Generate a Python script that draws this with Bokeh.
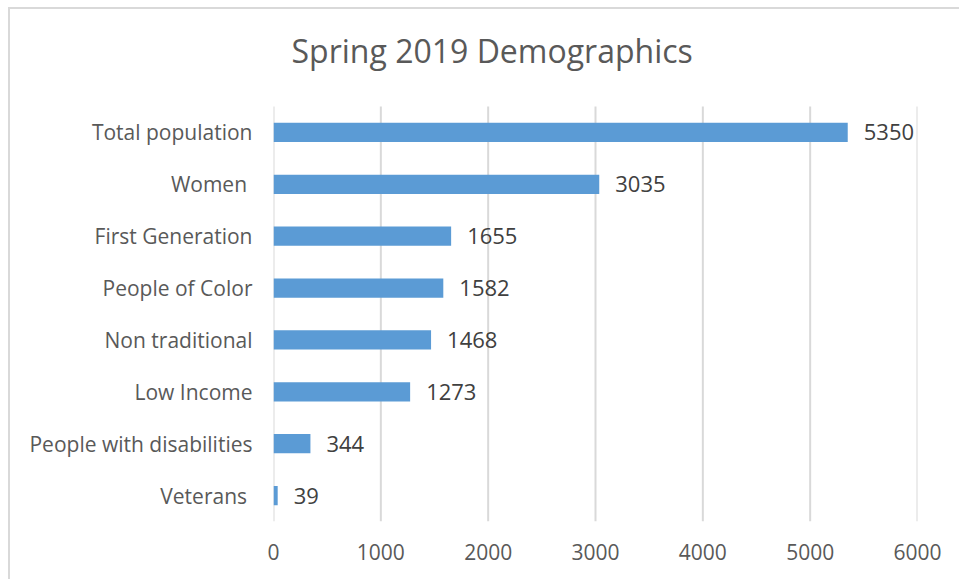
from bokeh.plotting import figure
from bokeh.models import ColumnDataSource, LabelSet, Label, Range1d, FixedTicker
from bokeh.core.properties import value
from bokeh.embed import file_html
from bokeh.resources import INLINE

categories = ["Total population", "Women ", "First Generation", "People of Color",
              "Non traditional", "Low Income", "People with disabilities", "Veterans "]
values = [5350, 3035, 1655, 1582, 1468, 1273, 344, 39]
x_ticks = [0, 1000, 2000, 3000, 4000, 5000, 6000]
title_text = "Spring 2019 Demographics"

FONT = "Open Sans"

cats_bottom_up = categories[::-1]
vals_bottom_up = values[::-1]
idx = list(range(len(cats_bottom_up)))
src = ColumnDataSource(dict(y=idx, cat=cats_bottom_up, val=vals_bottom_up,
                            lbl=[str(v) for v in vals_bottom_up]))

p = figure(width=951, height=572, output_backend="svg", toolbar_location=None,
           y_range=Range1d(-0.5, 9.37), x_range=Range1d(0, 6000),
           min_border_left=263, min_border_right=44, min_border_top=0, min_border_bottom=60)
p.title.text = ""

# vertical grid lines spanning only the category band
p.segment(x0=x_ticks, x1=x_ticks, y0=[-0.5] * len(x_ticks), y1=[len(idx) - 0.5] * len(x_ticks),
          line_color="#D9D9D9", line_width=2)

p.hbar(y="y", right="val", height=0.37, source=src, fill_color="#5B9BD5", line_color=None)

labels = LabelSet(x="val", y="y", text="lbl", source=src, x_offset=16,
                  text_baseline="middle", text_align="left",
                  text_font=value(FONT), text_font_size=value("22px"), text_color="#404040")
p.add_layout(labels)

title = Label(x=168, y=8.58, text=title_text,
              text_align="left", text_baseline="middle",
              text_font=FONT, text_font_size="32px", text_color="#595959")
p.add_layout(title)

p.outline_line_color = None
p.xgrid.grid_line_color = None
p.ygrid.grid_line_color = None
p.xaxis.ticker = FixedTicker(ticks=x_ticks)
p.yaxis.ticker = FixedTicker(ticks=idx)
p.yaxis.major_label_overrides = {i: c for i, c in zip(idx, cats_bottom_up)}

for ax in (p.xaxis, p.yaxis):
    ax.axis_line_color = None
    ax.major_tick_line_color = None
    ax.minor_tick_line_color = None
    ax.major_label_text_font = FONT
    ax.major_label_text_font_size = "21px"
    ax.major_label_text_color = "#595959"
p.xaxis.major_label_standoff = 16
p.yaxis.major_label_standoff = 15

p.styles = {"border-left": "2px solid #D9D9D9", "border-top": "2px solid #D9D9D9",
            "margin-left": "8px", "margin-top": "7px"}

open("out.html", "w").write(file_html(p, INLINE))
